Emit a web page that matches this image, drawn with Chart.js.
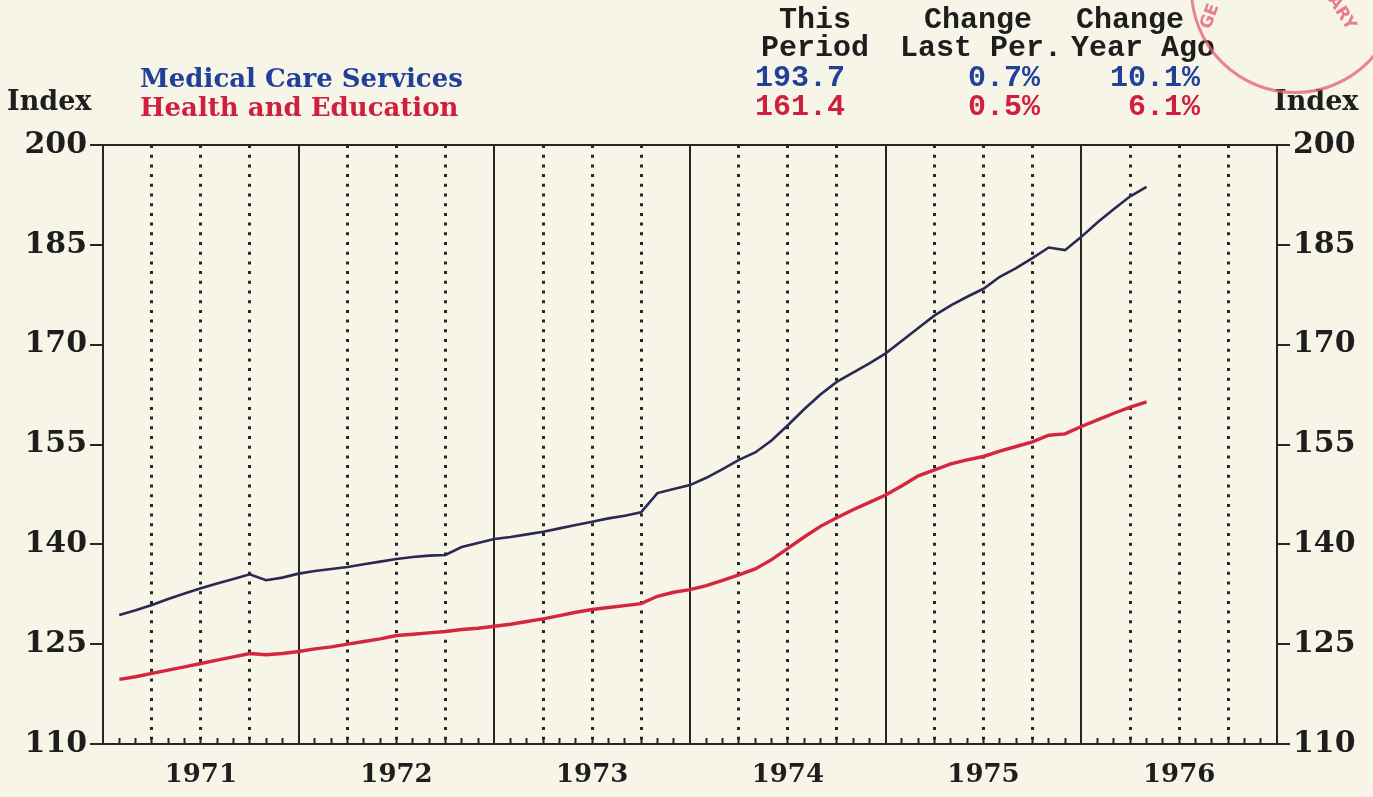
<!DOCTYPE html>
<html>
<head>
<meta charset="utf-8">
<script src="https://cdn.jsdelivr.net/npm/chart.js@4/dist/chart.umd.min.js"></script>
<style>
  html, body { margin: 0; padding: 0; background: #f7f4e8; }
  #wrap { position: relative; width: 1373px; height: 797px; overflow: hidden; }
  #chart { position: absolute; left: 0; top: 0; }
  .txt { position: absolute; white-space: pre; line-height: 1; transform: translateY(-50%); }
  .serif { font-family: "DejaVu Serif", serif; font-weight: bold; font-size: 26px; }
  .mono { font-family: "Liberation Mono", monospace; font-weight: bold; font-size: 30px; }
  .ink { color: #1e1e1e; }
  .blue { color: #22409a; }
  .red { color: #cf1f3e; }
  .stamp { position: absolute; left: 1190px; top: -116px; width: 204px; height: 204px;
           border: 3px solid rgba(226, 96, 112, 0.75); border-radius: 50%; }
  .stamp-txt { position: absolute; font-family: "DejaVu Sans", sans-serif; font-weight: bold;
               font-size: 17px; color: rgba(226, 96, 112, 0.8); }
</style>
</head>
<body>
<div id="wrap">
  <canvas id="chart" width="1373" height="797"></canvas>

  <div class="txt serif ink" style="left:7px; top:100px; font-size:27px;">Index</div>
  <div class="txt serif ink" style="left:1274px; top:100px; font-size:27px;">Index</div>
  <div class="txt serif blue" style="left:140px; top:78px;">Medical Care Services</div>
  <div class="txt serif red" style="left:140px; top:107px;">Health and Education</div>

  <div class="txt mono ink" style="left:770px; width:90px; text-align:center; top:20px;">This</div>
  <div class="txt mono ink" style="left:760px; width:110px; text-align:center; top:48px;">Period</div>
  <div class="txt mono ink" style="left:918px; width:120px; text-align:center; top:20px;">Change</div>
  <div class="txt mono ink" style="left:886px; width:190px; text-align:center; top:48px;">Last Per.</div>
  <div class="txt mono ink" style="left:1070px; width:120px; text-align:center; top:20px;">Change</div>
  <div class="txt mono ink" style="left:1068px; width:150px; text-align:center; top:48px;">Year Ago</div>

  <div id="mcNow" class="txt mono blue" style="left:755px; top:78px;"></div>
  <div id="mcLast" class="txt mono blue" style="right:333px; top:78px;"></div>
  <div id="mcYear" class="txt mono blue" style="right:173px; top:78px;"></div>
  <div id="heNow" class="txt mono red" style="left:755px; top:107px;"></div>
  <div id="heLast" class="txt mono red" style="right:333px; top:107px;"></div>
  <div id="heYear" class="txt mono red" style="right:173px; top:107px;"></div>

  <div class="stamp"></div>
  <div class="stamp-txt" style="left:1196px; top:6px; transform:rotate(-70deg);">GE</div>
  <div class="stamp-txt" style="left:1324px; top:2px; transform:rotate(58deg);">ARY</div>
</div>

<script>
const yearLabels = ['1971', '1972', '1973', '1974', '1975', '1976'];
const yTicks = [110, 125, 140, 155, 170, 185, 200];

// monthly readings, the first one plotted at the end of January 1971
const firstMonth = 1;

const medicalCare = [
  129.4, 130.1, 130.9, 131.8, 132.6, 133.4, 134.1, 134.8, 135.5, 134.6, 135.0, 135.6,
  136.0, 136.3, 136.6, 137.0, 137.4, 137.8, 138.1, 138.3, 138.4, 139.6, 140.2, 140.8,
  141.1, 141.5, 141.9, 142.4, 142.9, 143.4, 143.9, 144.3, 144.8, 147.7, 148.3, 148.9,
  150.0, 151.3, 152.7, 153.8, 155.6, 157.9, 160.3, 162.5, 164.4, 165.8, 167.2, 168.7,
  170.6, 172.5, 174.4, 175.9, 177.2, 178.4, 180.2, 181.5, 183.0, 184.6, 184.2, 186.2,
  188.4, 190.4, 192.3, 193.7
];

const healthEducation = [
  119.7, 120.1, 120.6, 121.1, 121.6, 122.1, 122.6, 123.1, 123.6, 123.4, 123.6, 123.9,
  124.3, 124.6, 125.0, 125.4, 125.8, 126.3, 126.5, 126.7, 126.9, 127.2, 127.4, 127.7,
  128.0, 128.4, 128.8, 129.3, 129.8, 130.2, 130.5, 130.8, 131.1, 132.2, 132.8, 133.2,
  133.8, 134.6, 135.4, 136.3, 137.7, 139.4, 141.1, 142.7, 144.0, 145.2, 146.3, 147.4,
  148.8, 150.3, 151.2, 152.1, 152.7, 153.2, 154.0, 154.7, 155.4, 156.4, 156.6, 157.7,
  158.7, 159.7, 160.6, 161.4
];

// summary table: latest value, change on the month, change on the year
function fillSummary(vals, prefix) {
  const n = vals.length;
  const pct = (a, b) => ((a / b - 1) * 100).toFixed(1) + '%';
  document.getElementById(prefix + 'Now').textContent = vals[n - 1].toFixed(1);
  document.getElementById(prefix + 'Last').textContent = pct(vals[n - 1], vals[n - 2]);
  document.getElementById(prefix + 'Year').textContent = pct(vals[n - 1], vals[n - 13]);
}
fillSummary(medicalCare, 'mc');
fillSummary(healthEducation, 'he');

const months = yearLabels.length * 12;
const toPoints = vals => vals.map((v, i) => ({ x: firstMonth + i, y: v }));

const ink = '#262626';
const yearFont = { family: 'DejaVu Serif', weight: 'bold', size: 26 };
const indexFont = { family: 'DejaVu Serif', weight: 'bold', size: 30 };

const yAxis = (position, width, onArea) => ({
  position: position,
  min: 110,
  max: 200,
  afterBuildTicks: s => { s.ticks = yTicks.map(v => ({ value: v })); },
  afterFit: s => { s.width = width; },
  ticks: { padding: 3, color: '#1e1e1e', font: indexFont },
  grid: {
    drawOnChartArea: onArea,
    color: c => (c.tick && c.tick.value === 200 ? ink : 'transparent'),
    lineWidth: 2,
    tickLength: 13,
    tickWidth: 2,
    tickColor: ink
  },
  border: { color: ink, width: 2 }
});

new Chart(document.getElementById('chart'), {
  type: 'line',
  data: {
    datasets: [
      {
        label: 'Medical Care Services',
        data: toPoints(medicalCare),
        borderColor: '#2b2853',
        borderWidth: 2.6,
        pointRadius: 0,
        yAxisID: 'y'
      },
      {
        label: 'Health and Education',
        data: toPoints(healthEducation),
        borderColor: '#d4263e',
        borderWidth: 3.4,
        pointRadius: 0,
        yAxisID: 'y'
      }
    ]
  },
  options: {
    responsive: false,
    animation: false,
    devicePixelRatio: 1,
    layout: { padding: { top: 145 } },
    plugins: { legend: { display: false }, tooltip: { enabled: false } },
    scales: {
      x: {
        type: 'linear',
        min: 0,
        max: months,
        afterBuildTicks: s => { s.ticks = Array.from({ length: months + 1 }, (_, i) => ({ value: i })); },
        afterFit: s => { s.height = 53; },
        ticks: {
          autoSkip: false,
          maxRotation: 0,
          padding: 22,
          color: '#1e1e1e',
          font: yearFont,
          callback: v => (v % 12 === 6 ? yearLabels[(v - 6) / 12] : '')
        },
        grid: {
          // solid line at each year, dotted line at each quarter, tick mark every month
          color: c => (c.tick && c.tick.value % 3 === 0 ? ink : 'transparent'),
          lineWidth: c => (c.tick && c.tick.value % 12 === 0 ? 2 : 3),
          tickLength: -6,
          tickWidth: 2,
          tickColor: ink
        },
        border: {
          color: ink,
          width: 2,
          dash: c => (c.tick && c.tick.value % 12 !== 0 ? [3, 6.7] : [])
        }
      },
      y: yAxis('left', 103, true),
      y2: yAxis('right', 96, false)
    }
  }
});
</script>
</body>
</html>
